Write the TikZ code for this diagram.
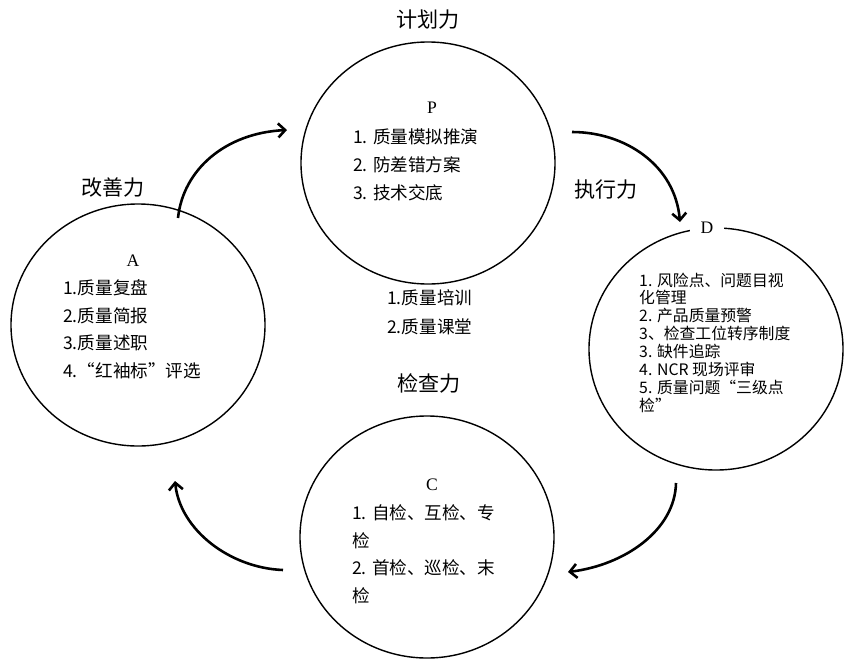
\documentclass[tikz,border=0pt]{standalone}
\usepackage{fontspec}
\setmainfont{Noto Sans CJK SC}
\newfontfamily\latin{Liberation Serif}
\usetikzlibrary{arrows.meta,shapes.geometric}

\begin{document}
\begin{tikzpicture}[x=0.03cm,y=-0.03cm,
  ring/.style={draw,ellipse,line width=1.2pt,minimum width=7.62cm,minimum height=7.26cm,inner sep=0pt},
  turn/.style={line width=2.2pt,-{Straight Barb[length=6pt,width=12pt]}},
  headline/.style={font=\fontsize{18}{20}\selectfont},
  item/.style={anchor=west,inner sep=0pt,font=\fontsize{15}{18}\selectfont},
  small/.style={anchor=west,inner sep=0pt,font=\fontsize{13.5}{16}\selectfont},
  letter/.style={font=\latin\fontsize{15}{16}\selectfont}]
  \useasboundingbox (0,0) rectangle (864,667);
  % circles
  \node[ring] (plan) at (428,163) {};
  \node[ring] (act) at (138,325) {};
  \node[ring] (do) at (716,349) {};
  \node[ring] (check) at (427,537) {};
  % headlines
  \node[headline] (hplan) at (428,20) {计划力};
  \node[headline] (hdo) at (606,190) {执行力};
  \node[headline] (hact) at (113,188) {改善力};
  \node[headline] (hcheck) at (429,383) {检查力};
  % P
  \node[letter] (lp) at (432,108) {P};
  \foreach \i/\t in {1/{1. 质量模拟推演},2/{2. 防差错方案},3/{3. 技术交底}}
    \node[item] (p\i) at (353,{109+28*\i}) {\t};
  \foreach \i/\t in {1/{1.质量培训},2/{2.质量课堂}}
    \node[item] (t\i) at (387,{269+29*\i}) {\t};
  % D
  \node[letter,fill=white,inner xsep=9pt,inner ysep=1pt] (ld) at (707,228) {D};
  \foreach \i/\t in {0/{1. 风险点、问题目视},1/{化管理},2/{2. 产品质量预警},3/{3、检查工位转序制度},
    4/{3. 缺件追踪},5/{4. NCR 现场评审},6/{5. 质量问题“三级点},7/{检”}}
    \node[small] (d\i) at (639,{280+17.9*\i}) {\t};
  % C
  \node[letter] (lc) at (432,485) {C};
  \foreach \i/\t in {1/{1. 自检、互检、专},2/{检},3/{2. 首检、巡检、末},4/{检}}
    \node[item] (c\i) at (352,{485.5+27.5*\i}) {\t};
  % A
  \node[letter] (la) at (133,261) {A};
  \foreach \i/\t in {1/{1.质量复盘},2/{2.质量简报},3/{3.质量述职},4/{4.“红袖标”评选}}
    \node[item] (a\i) at (63,{260.5+27.5*\i}) {\t};
  % arrows
  \coordinate (ap0) at (178,218); \coordinate (ap1) at (287,130);
  \coordinate (pd0) at (572,132); \coordinate (pd1) at (680,222);
  \coordinate (dc0) at (676,483); \coordinate (dc1) at (568,572);
  \coordinate (ca0) at (283,570); \coordinate (ca1) at (175,481);
  \draw[turn] (ap0) .. controls (183,170) and (225,133) .. (ap1);
  \draw[turn] (pd0) .. controls (625,132) and (675,165) .. (pd1);
  \draw[turn] (dc0) .. controls (675,530) and (625,565) .. (dc1);
  \draw[turn] (ca0) .. controls (230,568) and (180,530) .. (ca1);
\end{tikzpicture}
\end{document}
